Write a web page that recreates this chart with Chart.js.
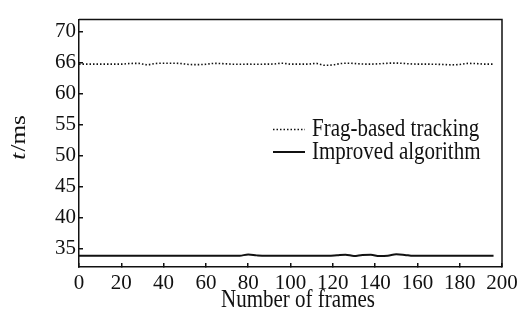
<!DOCTYPE html>
<html>
<head>
<meta charset="utf-8">
<script src="https://cdn.jsdelivr.net/npm/chart.js@4.4.1/dist/chart.umd.min.js"></script>
<style>
  html, body { margin: 0; padding: 0; background: #fff; }
  #wrap { width: 527px; height: 322px; position: relative; }
</style>
</head>
<body>
<div id="wrap"><canvas id="timeChart"></canvas></div>
<script>
// ---- data ----
const fragFrames = [0, 4, 8, 12, 16, 20, 24, 28, 32, 36, 40, 44, 48, 52, 56, 60, 64, 68, 72, 76,
  80, 84, 88, 92, 96, 100, 104, 108, 112, 116, 120, 124, 128, 132, 136, 140, 144, 148, 152, 156,
  160, 164, 168, 172, 176, 180, 184, 188, 192, 196];
const fragTimes = [64.8, 64.8, 64.8, 64.8, 64.8, 64.8, 64.9, 64.92, 64.7, 64.9, 64.95, 64.95, 64.9, 64.75, 64.72, 64.78, 64.92, 64.88, 64.8, 64.78,
  64.8, 64.78, 64.8, 64.82, 64.95, 64.8, 64.8, 64.8, 64.92, 64.62, 64.68, 64.9, 64.95, 64.85, 64.8, 64.82, 64.9, 64.97, 64.95, 64.85,
  64.8, 64.8, 64.78, 64.75, 64.68, 64.75, 64.92, 64.88, 64.8, 64.8];

const improvedFrames = [0, 20, 40, 60, 72, 76, 80, 84, 88, 100, 118, 122, 126, 130, 134, 138, 142, 146, 150, 154, 158, 170, 196];
const improvedTimes = [33.8, 33.8, 33.8, 33.8, 33.8, 33.82, 34.02, 33.88, 33.8, 33.8, 33.8, 33.9, 34.0, 33.78, 33.95, 33.98, 33.76, 33.82, 34.05, 33.95, 33.8, 33.8, 33.8];

const seriesLabels = ['Frag-based tracking', 'Improved algorithm'];
const yTickValues = [35, 40, 45, 50, 55, 60, 65, 70];
const yTickLabels = ['35', '40', '45', '50', '55', '60', '66', '70'];
const xTitle = 'Number of frames';
const yTitleItalic = 't';
const yTitleRest = '/ms';

const FONT = '"Liberation Serif", "DejaVu Serif", serif';
const INK = '#111';
const STRETCH = 1.15; // the source figure's glyphs are a bit taller than wide

function toPoints(xs, ys) {
  return xs.map((x, i) => ({ x: x, y: ys[i] }));
}

// text drawn a little taller, like the scanned figure
function tallText(ctx, text, x, y) {
  ctx.save();
  ctx.translate(x, y);
  ctx.scale(1, STRETCH);
  ctx.fillText(text, 0, 0);
  ctx.restore();
}

// frame on top/right, axis titles and the in-plot legend
const decorations = {
  id: 'decorations',
  afterDraw(chart) {
    const { ctx, chartArea: a } = chart;
    ctx.save();
    ctx.strokeStyle = INK;
    ctx.lineWidth = 1.5;
    ctx.beginPath();
    ctx.moveTo(a.left, a.top);
    ctx.lineTo(a.right, a.top);
    ctx.lineTo(a.right, a.bottom);
    ctx.stroke();

    // x title
    ctx.fillStyle = INK;
    ctx.font = '21px ' + FONT;
    ctx.textAlign = 'center';
    ctx.textBaseline = 'alphabetic';
    tallText(ctx, xTitle, 298, 307);

    // y title, rotated, italic t
    ctx.save();
    ctx.translate(25, 138);
    ctx.rotate(-Math.PI / 2);
    ctx.scale(STRETCH, 1);
    ctx.textAlign = 'left';
    ctx.font = 'italic 22px ' + FONT;
    const w1 = ctx.measureText(yTitleItalic).width;
    ctx.font = '22px ' + FONT;
    const w2 = ctx.measureText(yTitleRest).width;
    const x0 = -(w1 + w2) / 2;
    ctx.font = 'italic 22px ' + FONT;
    ctx.fillText(yTitleItalic, x0, 0);
    ctx.font = '22px ' + FONT;
    ctx.fillText(yTitleRest, x0 + w1 + 1, 0);
    ctx.restore();

    // legend
    const rows = [{ ly: 129.5, ty: 135.5 }, { ly: 152, ty: 158.5 }];
    chart.data.datasets.forEach((ds, i) => {
      const r = rows[i];
      ctx.save();
      ctx.strokeStyle = ds.borderColor;
      ctx.lineWidth = ds.borderWidth;
      ctx.setLineDash(ds.borderDash || []);
      ctx.beginPath();
      ctx.moveTo(273, r.ly);
      ctx.lineTo(305, r.ly);
      ctx.stroke();
      ctx.restore();
      ctx.font = '21px ' + FONT;
      ctx.textAlign = 'left';
      tallText(ctx, ds.label, 312, r.ty);
    });
    ctx.restore();
  }
};

new Chart(document.getElementById('timeChart'), {
  type: 'line',
  data: {
    datasets: [
      {
        label: seriesLabels[0],
        data: toPoints(fragFrames, fragTimes),
        borderColor: INK,
        borderWidth: 1.6,
        borderDash: [1.5, 2],
        pointRadius: 0,
        cubicInterpolationMode: 'monotone',
        fill: false,
      },
      {
        label: seriesLabels[1],
        data: toPoints(improvedFrames, improvedTimes),
        borderColor: INK,
        borderWidth: 2,
        pointRadius: 0,
        cubicInterpolationMode: 'monotone',
        fill: false,
      },
    ],
  },
  options: {
    responsive: true,
    maintainAspectRatio: false,
    animation: false,
    events: [],
    layout: { padding: { top: 7, right: 25, left: 0, bottom: 0 } },
    plugins: { legend: { display: false }, tooltip: { enabled: false } },
    scales: {
      x: {
        type: 'linear',
        min: 0,
        max: 200,
        grid: { drawOnChartArea: false, tickLength: -4, color: INK, lineWidth: 1.5 },
        border: { display: true, color: INK, width: 1.5 },
        ticks: {
          stepSize: 20,
          autoSkip: false,
          maxRotation: 0,
          padding: 8,
          color: INK,
          font: { family: FONT, size: 21 },
        },
        afterFit(scale) { scale.height = 55; },
      },
      y: {
        min: 32,
        max: 72,
        grid: { drawOnChartArea: false, tickLength: -4, color: INK, lineWidth: 1.5 },
        border: { display: true, color: INK, width: 1.5 },
        afterBuildTicks(scale) { scale.ticks = yTickValues.map((v) => ({ value: v })); },
        ticks: {
          padding: 7,
          color: INK,
          font: { family: FONT, size: 21 },
          callback: (v) => yTickLabels[yTickValues.indexOf(v)],
        },
        afterFit(scale) { scale.width = 79; },
      },
    },
  },
  plugins: [decorations],
});
</script>
</body>
</html>
